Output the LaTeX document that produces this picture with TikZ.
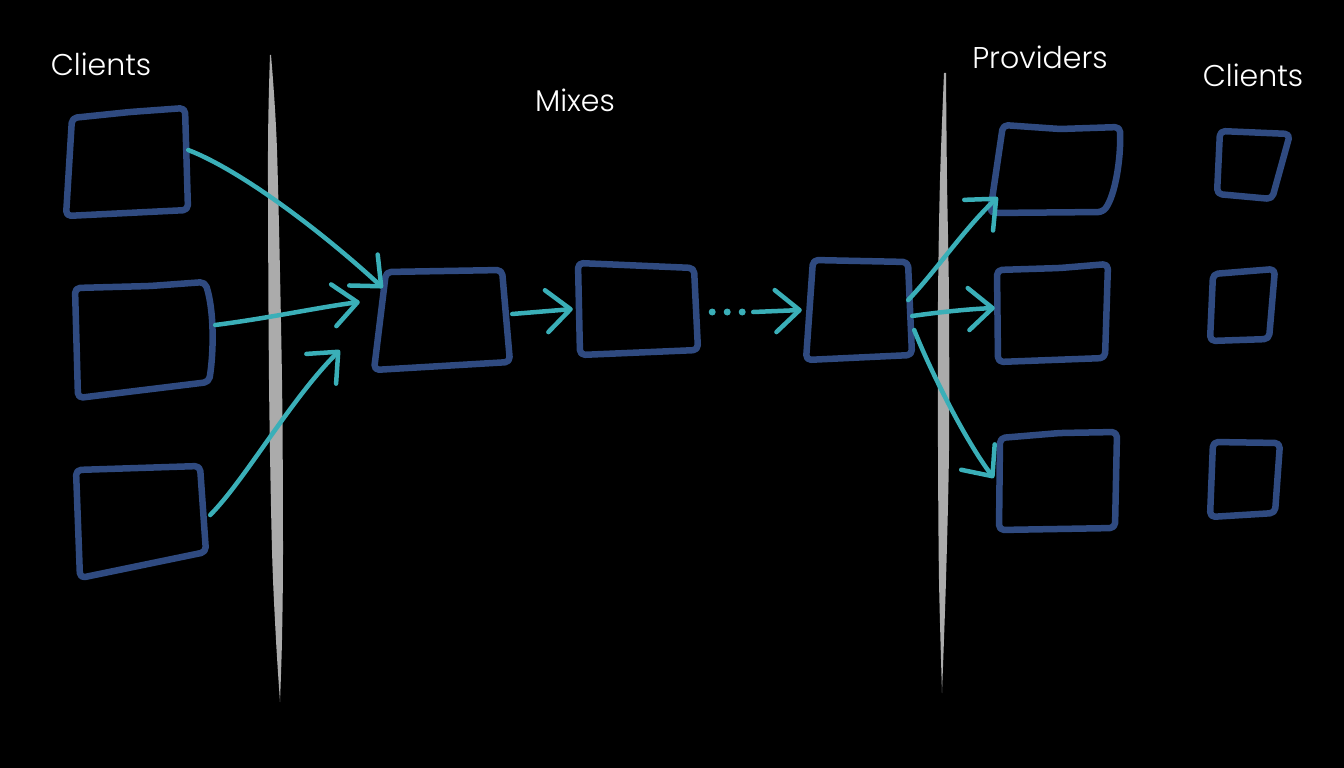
\documentclass[tikz,border=0pt]{standalone}
\usepackage{fontspec}
\setmainfont{Poppins Light}
\usetikzlibrary{arrows.meta,calc}
\definecolor{bg}{HTML}{000000}
\definecolor{boxblue}{HTML}{2F4A80}
\definecolor{arrteal}{HTML}{3AAFB8}
\definecolor{bargray}{HTML}{ABABAB}
\tikzset{
  hbox/.style={draw=boxblue, line width=6.5pt, rounded corners=5pt, line join=round},
  anchorbox/.style={draw=none, inner sep=0pt},
  arr/.style={draw=arrteal, line width=4.5pt, line cap=round,
    -{Straight Barb[length=24pt, width=42pt, round]}},
  dotline/.style={draw=arrteal, line width=7pt, line cap=round, dash pattern=on 0pt off 15pt},
  bar/.style={fill=bargray},
  lbl/.style={text=white, font=\fontsize{30}{36}\selectfont, inner sep=0pt}
}
\begin{document}
\begin{tikzpicture}[x=1pt,y=-1pt]
\fill[bg] (0,0) rectangle (1344,768);
\useasboundingbox (0,0) rectangle (1344,768);

% labels
\node[lbl] (tclients) at (101,64) {Clients};
\node[lbl] (tmixes) at (575,100) {Mixes};
\node[lbl] (tprov) at (1040,57) {Providers};
\node[lbl] (tclients2) at (1253,75) {Clients};

% bars
\fill[bar] plot[smooth] coordinates {(270,55) (268,150) (269,380) (272,550) (276,640) (280,702)}
  -- plot[smooth] coordinates {(280,702) (282,640) (283,550) (282,380) (277,150) (271,55)} -- cycle;
\fill[bar] plot[smooth] coordinates {(944,73) (940,180) (938,300) (938,450) (939,580) (942,693)}
  -- plot[smooth] coordinates {(942,693) (946,580) (949,450) (949,300) (947,180) (946,73)} -- cycle;

% anchor nodes
\node[anchorbox, minimum width=122pt, minimum height=108pt] (c1) at (127,162) {};
\node[anchorbox, minimum width=138pt, minimum height=118pt] (c2) at (143,340) {};
\node[anchorbox, minimum width=134pt, minimum height=112pt] (c3) at (141,522) {};
\node[anchorbox, minimum width=136pt, minimum height=100pt] (m1) at (442,320) {};
\node[anchorbox, minimum width=122pt, minimum height=95pt] (m2) at (638,309) {};
\node[anchorbox, minimum width=106pt, minimum height=104pt] (m3) at (859,310) {};
\node[anchorbox, minimum width=132pt, minimum height=90pt] (p1) at (1055,169) {};
\node[anchorbox, minimum width=112pt, minimum height=98pt] (p2) at (1053,314) {};
\node[anchorbox, minimum width=120pt, minimum height=96pt] (p3) at (1058,482) {};
\node[anchorbox, minimum width=74pt, minimum height=70pt] (r1) at (1253,165) {};
\node[anchorbox, minimum width=68pt, minimum height=74pt] (r2) at (1242,305) {};
\node[anchorbox, minimum width=72pt, minimum height=78pt] (r3) at (1244,477) {};

% hand drawn outlines
\draw[hbox] (72,118) -- (130,112) -- (185,108) -- (188,210) -- (66,216) -- cycle;
\draw[hbox] (75,288) -- (150,286) -- (205,282) .. controls (214,310) and (214,350) .. (209,382) -- (78,398) -- cycle;
\draw[hbox] (76,470) -- (200,466) -- (206,552) -- (80,578) -- cycle;
\draw[hbox] (386,272) -- (502,270) -- (510,362) -- (374,370) -- cycle;
\draw[hbox] (578,263) -- (694,268) -- (698,350) -- (580,355) -- cycle;
\draw[hbox] (813,260) -- (908,262) -- (912,355) -- (806,360) -- cycle;
\draw[hbox] (1003,125) -- (1060,129) -- (1120,127) .. controls (1121,160) and (1115,195) .. (1103,212) -- (990,213) -- cycle;
\draw[hbox] (997,270) -- (1060,268) -- (1108,264) -- (1105,358) -- (998,362) -- cycle;
\draw[hbox] (1000,438) -- (1060,433) -- (1117,432) -- (1115,528) -- (999,530) -- cycle;
\draw[hbox] (1220,131) -- (1290,134) -- (1272,199) -- (1217,194) -- cycle;
\draw[hbox] (1213,274) -- (1275,269) -- (1269,339) -- (1210,341) -- cycle;
\draw[hbox] (1213,442) -- (1280,443) -- (1275,513) -- (1210,517) -- cycle;

% connectors
\draw[arr] ([shift={(0,-12)}]c1.east) .. controls (240,170) and (320,230) .. ([shift={(9,18)}]m1.north west);
\draw[arr] ([shift={(3,-15)}]c2.east) .. controls (270,318) and (320,307) .. ([shift={(-14,-18)}]m1.west);
\draw[arr] ([shift={(2,-7)}]c3.east) .. controls (245,480) and (290,400) .. ([shift={(-34,-20)}]m1.south west);
\draw[arr] ([shift={(2,-6)}]m1.east) -- ([shift={(-4,0)}]m2.west);
\coordinate (dA) at ($(m2.east)+(13,3)$);
\coordinate (dB) at ($(m2.east)+(46,3)$);
\coordinate (dC) at ($(m2.east)+(54,3)$);
\draw[dotline] (dA) -- (dB);
\draw[arr] (dC) -- ([shift={(-4,0)}]m3.west);
\draw[arr] ([shift={(-4,-10)}]m3.east) .. controls (935,272) and (965,228) .. ([shift={(9,-17)}]p1.south west);
\draw[arr] ([shift={(0,6)}]m3.east) .. controls (940,312) and (970,309) .. ([shift={(-2,-6)}]p2.west);
\draw[arr] ([shift={(2,20)}]m3.east) .. controls (930,370) and (965,440) .. ([shift={(-4,-4)}]p3.west);
\end{tikzpicture}
\end{document}
